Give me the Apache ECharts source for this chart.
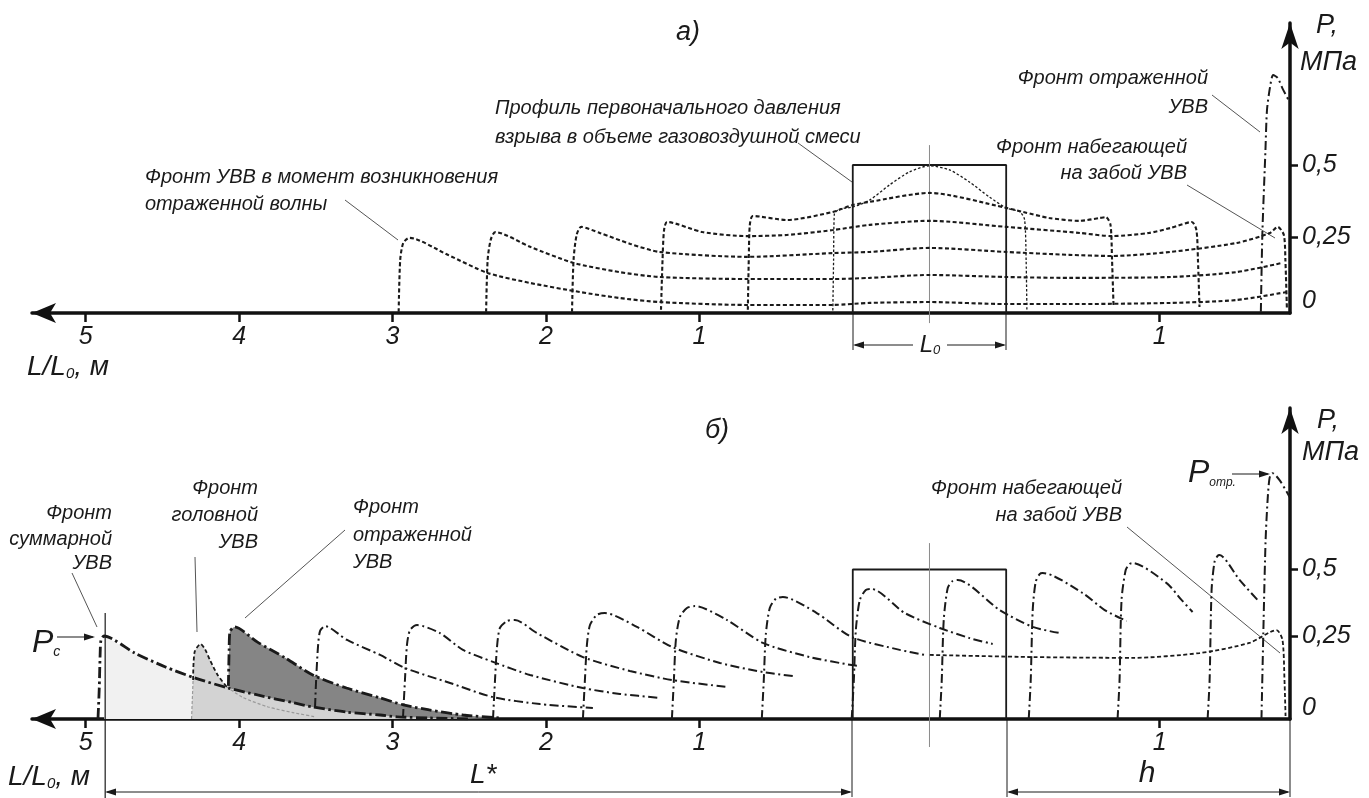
<!DOCTYPE html>
<html>
<head>
<meta charset="utf-8">
<title>Профили давления УВВ</title>
<script src="https://cdn.jsdelivr.net/npm/echarts@6.0.0/dist/echarts.min.js"></script>
<style>
html, body { margin: 0; padding: 0; background: #fff; }
#chart { width: 1369px; height: 798px; }
</style>
</head>
<body>
<div id="chart"></div>
<script>
// x: distance along the working in L/L0 units (0 = left edge of the charge box), p: pressure, MPa
var xTicks = [-5, -4, -3, -2, -1, 2];
var xTickText = ['5', '4', '3', '2', '1', '1'];
var pTicks = [0, 0.25, 0.5];
var pTickText = ['0', '0,25', '0,5'];

// ---- panel a) : pressure profiles at successive moments (dotted)
var a_profile0 = [[-0.13,-0.005],[-0.125,0.17],[-0.12,0.33],[-0.085,0.347],[0,0.354],[0.11,0.378],[0.24,0.431],[0.37,0.476],[0.5,0.497],[0.63,0.483],[0.76,0.441],[0.89,0.389],[1.0,0.351],[1.09,0.337],[1.12,0.31],[1.13,0.17],[1.135,-0.005]];
var a_profile1 = [[-0.684,-0.003],[-0.678,0.17],[-0.671,0.292],[-0.651,0.323],[-0.43,0.309],[-0.13,0.337],[0,0.361],[0.11,0.372],[0.5,0.403],[1.0,0.351],[1.11,0.337],[1.28,0.316],[1.48,0.306],[1.61,0.316],[1.65,0.319],[1.68,0.292],[1.69,0.17],[1.70,0.007]];
var a_profile2 = [[-1.25,-0.003],[-1.24,0.17],[-1.23,0.274],[-1.21,0.302],[-0.98,0.267],[-0.69,0.253],[-0.43,0.257],[-0.13,0.274],[0.11,0.292],[0.5,0.306],[1.0,0.285],[1.48,0.264],[1.69,0.253],[1.93,0.264],[2.07,0.281],[2.21,0.302],[2.24,0.274],[2.25,0.17],[2.26,0.007]];
var a_profile3 = [[-1.83,-0.01],[-1.82,0.17],[-1.80,0.257],[-1.77,0.285],[-1.65,0.264],[-1.45,0.226],[-1.26,0.198],[-0.69,0.181],[-0.13,0.194],[0.11,0.198],[0.5,0.212],[1.0,0.198],[1.41,0.188],[1.69,0.184],[2.07,0.198],[2.5,0.229],[2.72,0.264],[2.77,0.285],[2.81,0.257],[2.82,0.17],[2.83,-0.003]];
var a_profile4 = [[-2.39,-0.01],[-2.38,0.17],[-2.36,0.24],[-2.33,0.267],[-2.10,0.215],[-1.82,0.16],[-1.52,0.128],[-1.26,0.111],[-0.69,0.104],[-0.13,0.104],[0.11,0.108],[0.5,0.118],[1.0,0.111],[1.41,0.108],[2.07,0.111],[2.5,0.128],[2.80,0.16]];
var a_profile5 = [[-2.96,-0.01],[-2.95,0.17],[-2.93,0.229],[-2.89,0.247],[-2.64,0.188],[-2.38,0.125],[-2.10,0.09],[-1.78,0.059],[-1.52,0.038],[-1.26,0.024],[-0.69,0.014],[-0.13,0.014],[0.11,0.021],[0.5,0.024],[1.0,0.017],[1.41,0.017],[2.07,0.021],[2.5,0.031],[2.83,0.059]];
var a_reflected = [[2.66,-0.01],[2.67,0.264],[2.69,0.552],[2.70,0.691],[2.72,0.771],[2.74,0.8125],[2.77,0.802],[2.80,0.767],[2.84,0.726]];
var a_box = [[0,-0.014],[0,0.5],[1,0.5],[1,-0.014]];
var a_center = [[0.5,0.569],[0.5,-0.049]];

// ---- panel б) : wave fronts (dash-dot)
var b_summary = [[-4.92,-0.06],[-4.912,0.049],[-4.905,0.199],[-4.90,0.236],[-4.88,0.251],[-4.68,0.187],[-4.48,0.135],[-4.29,0.094],[-4.07,0.056],[-3.88,0.030],[-3.64,0],[-3.52,-0.015],[-3.30,-0.034],[-3.08,-0.045],[-2.97,-0.052],[-2.76,-0.056],[-2.50,-0.06]];
var b_headFront = [[-4.31,-0.06],[-4.30,0.086]];
var b_headTop = [[-4.30,0.086],[-4.29,0.191],[-4.25,0.221],[-4.22,0.199],[-4.19,0.161],[-4.14,0.105],[-4.08,0.060]];
var b_headTail = [[-4.08,0.060],[-3.98,0.022],[-3.81,-0.015],[-3.64,-0.037],[-3.50,-0.052]];
var b_reflected = [[-4.07,0.064],[-4.065,0.199],[-4.06,0.266],[-4.03,0.285],[-3.88,0.228],[-3.70,0.169],[-3.52,0.105],[-3.30,0.056],[-3.08,0.019],[-2.93,-0.007],[-2.76,-0.026],[-2.54,-0.045],[-2.30,-0.056]];
var b_wave1 = [[-3.505,-0.015],[-3.498,0.086],[-3.485,0.217],[-3.472,0.270],[-3.44,0.288],[-3.296,0.236],[-3.081,0.180],[-2.919,0.131],[-2.625,0.075],[-2.345,0.022],[-2.039,-0.004],[-1.694,-0.019]];
var b_wave2 = [[-2.932,-0.056],[-2.919,0.086],[-2.906,0.217],[-2.886,0.273],[-2.84,0.292],[-2.691,0.262],[-2.541,0.199],[-2.345,0.154],[-2.104,0.105],[-1.759,0.056],[-1.518,0.034],[-1.257,0.019]];
var b_wave3 = [[-2.345,-0.06],[-2.332,0.086],[-2.319,0.21],[-2.30,0.281],[-2.254,0.307],[-2.202,0.311],[-2.059,0.262],[-1.759,0.172],[-1.453,0.12],[-1.179,0.086],[-0.821,0.06]];
var b_wave4 = [[-1.759,-0.06],[-1.746,0.086],[-1.733,0.217],[-1.713,0.292],[-1.668,0.33],[-1.616,0.337],[-1.407,0.285],[-1.179,0.21],[-0.866,0.15],[-0.586,0.116],[-0.391,0.101]];
var b_wave5 = [[-1.179,-0.06],[-1.166,0.086],[-1.153,0.236],[-1.127,0.322],[-1.081,0.356],[-1.029,0.363],[-0.821,0.311],[-0.586,0.225],[-0.28,0.172],[-0.007,0.142],[0.046,0.139]];
var b_wave6 = [[-0.593,-0.06],[-0.58,0.086],[-0.567,0.255],[-0.541,0.356],[-0.502,0.39],[-0.456,0.397],[-0.235,0.337],[-0.007,0.247],[0.306,0.199],[0.469,0.18]];
var b_wave7 = [[-0.007,-0.06],[0.007,0.086],[0.02,0.273],[0.046,0.386],[0.085,0.423],[0.124,0.427],[0.339,0.337],[0.567,0.281],[0.762,0.243],[0.912,0.221]];
var b_wave8 = [[0.567,-0.06],[0.58,0.086],[0.593,0.311],[0.619,0.431],[0.651,0.457],[0.684,0.461],[0.958,0.348],[1.173,0.285],[1.349,0.262]];
var b_wave9 = [[1.147,-0.06],[1.16,0.086],[1.173,0.348],[1.192,0.453],[1.218,0.483],[1.238,0.487],[1.498,0.412],[1.642,0.348],[1.785,0.307]];
var b_wave10 = [[1.726,-0.06],[1.739,0.086],[1.752,0.386],[1.779,0.498],[1.805,0.521],[1.824,0.524],[2.046,0.449],[2.143,0.386],[2.215,0.341]];
var b_wave11 = [[2.313,-0.06],[2.326,0.086],[2.339,0.424],[2.358,0.528],[2.378,0.551],[2.391,0.554],[2.521,0.461],[2.651,0.378]];
var b_wave12 = [[2.664,-0.06],[2.678,0.311],[2.691,0.61],[2.704,0.76],[2.717,0.843],[2.736,0.861],[2.782,0.835],[2.847,0.772]];
var b_incident = [[0.502,0.18],[1.173,0.172],[1.824,0.169],[2.261,0.187],[2.586,0.225],[2.762,0.273],[2.801,0.236],[2.814,0.086],[2.821,-0.049]];
var b_box = [[0,-0.06],[0,0.5],[1,0.5],[1,-0.06]];
var b_center = [[0.5,0.599],[0.5,-0.165]];
var b_lstar = [[-4.873,0.337],[-4.873,-0.356]];

var chart = echarts.init(document.getElementById('chart'));
var FONT = '"Liberation Sans", Arial, Helvetica, sans-serif';
var INK = '#1a1a1a';
var DOT = [4, 2.5], FINE = [2.5, 2], DASHDOT = [9, 3.5, 2, 3.5], BOLDDD = [11, 3.5, 2.5, 3.5];

var series = [];
function line(data, g, o) {
	series.push({
		type: 'line', xAxisIndex: g, yAxisIndex: g, data: data,
		symbol: 'none', smooth: o.smooth == null ? 0.25 : o.smooth,
		clip: o.clip === false ? false : true,
		lineStyle: { color: o.color || INK, width: o.width || 2, type: o.type || 'solid' },
		silent: true, animation: false, z: o.z || 3
	});
}
function area(data, g, color) {
	series.push({
		type: 'line', xAxisIndex: g, yAxisIndex: g, data: data,
		symbol: 'none', smooth: 0.25, lineStyle: { width: 0, opacity: 0 },
		areaStyle: { color: color, opacity: 1, origin: 'start' },
		silent: true, animation: false, z: 1
	});
}

// panel a
line(a_box, 0, { smooth: 0, width: 1.8, z: 2 });
line(a_center, 0, { smooth: 0, width: 1, color: '#8a8a8a', clip: false, z: 2 });
line(a_profile0, 0, { width: 1.3, type: FINE });
[a_profile1, a_profile2, a_profile3, a_profile4, a_profile5].forEach(function (d) {
	line(d, 0, { width: 2.1, type: DOT });
});
line(a_reflected, 0, { width: 2, type: DASHDOT });

// panel б : shaded areas first
area(b_summary.slice(4), 1, '#f1f1f1');
area(b_reflected, 1, '#858585');
area(b_headFront.concat(b_headTop, b_summary.slice(8)), 1, '#d3d3d3');
line(b_box, 1, { smooth: 0, width: 1.8, z: 2 });
line(b_center, 1, { smooth: 0, width: 1, color: '#8a8a8a', clip: false, z: 2 });
line(b_lstar, 1, { smooth: 0, width: 1.2, clip: false, z: 2 });
line(b_headFront, 1, { smooth: 0, width: 1.2, color: '#9a9a9a', type: [3, 2] });
line(b_headTail, 1, { width: 1.2, color: '#9a9a9a', type: [3, 2] });
line(b_headTop, 1, { width: 1.8, type: DOT });
line(b_summary, 1, { width: 2.8, type: BOLDDD });
line(b_reflected, 1, { width: 2.8, type: BOLDDD });
[b_wave1, b_wave2, b_wave3, b_wave4, b_wave5, b_wave6, b_wave7, b_wave8, b_wave9, b_wave10, b_wave11, b_wave12].forEach(function (d) {
	line(d, 1, { width: 2, type: DASHDOT });
});
line(b_incident, 1, { width: 1.8, type: DOT });

function xAxis(g) {
	return {
		gridIndex: g, type: 'value', min: -5.35, max: 2.85,
		axisLine: { show: true, onZero: false, symbol: ['arrow', 'none'], symbolSize: [15, 24],
			lineStyle: { color: '#111', width: 3.5 } },
		axisTick: { show: true, customValues: xTicks, length: 9, lineStyle: { color: '#111', width: 2.5 } },
		axisLabel: { customValues: xTicks, margin: 12, color: INK, fontSize: 25, fontStyle: 'italic', fontFamily: FONT,
			formatter: function (v) { var i = xTicks.indexOf(Math.round(v)); return i < 0 ? '' : xTickText[i]; } },
		splitLine: { show: false }
	};
}
function yAxis(g, min, max, zeroPad) {
	return {
		gridIndex: g, type: 'value', position: 'right', min: min, max: max,
		axisLine: { show: true, onZero: false, symbol: ['none', 'arrow'], symbolSize: [13, 26],
			lineStyle: { color: '#111', width: 3.5 } },
		axisTick: { show: true, customValues: [0.25, 0.5], length: 8, lineStyle: { color: '#111', width: 2.5 } },
		axisLabel: { customValues: pTicks, margin: 12, color: INK, fontSize: 25, fontStyle: 'italic', fontFamily: FONT,
			formatter: function (v) {
				var i = pTicks.indexOf(Math.round(v * 100) / 100);
				if (i === 0) return '{z|0}';
				return i < 0 ? '' : pTickText[i];
			},
			rich: { z: { fontSize: 25, fontStyle: 'italic', fontFamily: FONT, color: INK, padding: zeroPad } } },
		splitLine: { show: false }
	};
}

// annotations
var G = [];
function text(s, x, y, align, size) {
	G.push({ type: 'text', x: x, y: y, silent: true,
		style: { text: s, font: 'italic ' + size + 'px ' + FONT, fill: INK, align: align, verticalAlign: 'middle' } });
}
function subText(main, sub, x, y, align, size, subSize) {
	G.push({ type: 'text', x: x, y: y, silent: true,
		style: { text: '{m|' + main[0] + '}{s|' + sub + '}' + (main[1] ? '{m|' + main[1] + '}' : ''),
			fill: INK, align: align, verticalAlign: 'middle',
			rich: { m: { font: 'italic ' + size + 'px ' + FONT, fill: INK },
				s: { font: 'italic ' + subSize + 'px ' + FONT, fill: INK, verticalAlign: 'bottom' } } } });
}
function seg(x1, y1, x2, y2, color, w) {
	G.push({ type: 'line', silent: true, shape: { x1: x1, y1: y1, x2: x2, y2: y2 },
		style: { stroke: color || '#555', lineWidth: w || 1 } });
}
function head(x, y, dir) {
	G.push({ type: 'polygon', silent: true,
		shape: { points: [[x, y], [x - dir * 11, y - 3.5], [x - dir * 11, y + 3.5]] }, style: { fill: INK } });
}

var notes = [
	['а)', 688, 32, 'center', 27],
	['Профиль первоначального давления', 495, 108, 'left', 20],
	['взрыва в объеме газовоздушной смеси', 495, 137, 'left', 20],
	['Фронт УВВ в момент возникновения', 145, 177, 'left', 20],
	['отраженной волны', 145, 204, 'left', 20],
	['Фронт отраженной', 1208, 78, 'right', 20],
	['УВВ', 1208, 107, 'right', 20],
	['Фронт набегающей', 1187, 147, 'right', 20],
	['на забой УВВ', 1187, 173, 'right', 20],
	['P,', 1316, 25, 'left', 27],
	['МПа', 1300, 62, 'left', 27],
	['б)', 717, 430, 'center', 27],
	['Фронт', 112, 513, 'right', 20], ['суммарной', 112, 539, 'right', 20], ['УВВ', 112, 563, 'right', 20],
	['Фронт', 258, 488, 'right', 20], ['головной', 258, 515, 'right', 20], ['УВВ', 258, 542, 'right', 20],
	['Фронт', 353, 507, 'left', 20], ['отраженной', 353, 535, 'left', 20], ['УВВ', 353, 562, 'left', 20],
	['Фронт набегающей', 1122, 488, 'right', 20], ['на забой УВВ', 1122, 515, 'right', 20],
	['P,', 1317, 420, 'left', 27], ['МПа', 1302, 452, 'left', 27],
	['L*', 470, 775, 'left', 28],
	['h', 1147, 774, 'center', 30]
];
notes.forEach(function (n) { text(n[0], n[1], n[2], n[3], n[4]); });

subText(['L/L', ', м'], '0', 27, 367, 'left', 28, 15);
subText(['L/L', ', м'], '0', 8, 777, 'left', 28, 15);
subText(['L'], '0', 930, 345, 'center', 24, 13);
subText(['P'], 'c', 32, 643, 'left', 32, 14);
subText(['P'], 'отр.', 1188, 473, 'left', 32, 12);

var leaders = [[345, 200, 398, 240], [798, 143, 852, 182], [1212, 95, 1260, 132], [1187, 185, 1275, 238],
	[72, 573, 97, 627], [195, 557, 197, 632], [345, 530, 245, 618], [1127, 527, 1280, 653]];
leaders.forEach(function (l) { seg(l[0], l[1], l[2], l[3], '#555', 1); });

// dimension lines
seg(853, 313, 853, 350, INK, 1); seg(1006, 313, 1006, 350, INK, 1);
seg(855, 345, 913, 345, INK, 1); seg(947, 345, 1004, 345, INK, 1); head(853, 345, -1); head(1006, 345, 1);
seg(852, 719, 852, 797, INK, 1); seg(1007, 719, 1007, 797, INK, 1); seg(1290, 719, 1290, 797, INK, 1);
seg(107, 792, 850, 792, INK, 1); head(105, 792, -1); head(852, 792, 1);
seg(1009, 792, 1288, 792, INK, 1); head(1007, 792, -1); head(1290, 792, 1);
seg(57, 637, 93, 637, INK, 1.2); head(95, 637, 1);
seg(1232, 474, 1268, 474, INK, 1.2); head(1270, 474, 1);

chart.setOption({
	animation: false,
	backgroundColor: '#fff',
	grid: [
		{ left: 32, top: 23, width: 1258, height: 290, containLabel: false, outerBoundsMode: 'none' },
		{ left: 32, top: 408, width: 1258, height: 311, containLabel: false, outerBoundsMode: 'none' }
	],
	xAxis: [xAxis(0), xAxis(1)],
	yAxis: [yAxis(0, -0.014, 0.993, [0, 0, 16, 0]), yAxis(1, -0.06, 1.105, [10, 0, 0, 0])],
	series: series,
	graphic: { elements: G }
});
</script>
</body>
</html>
